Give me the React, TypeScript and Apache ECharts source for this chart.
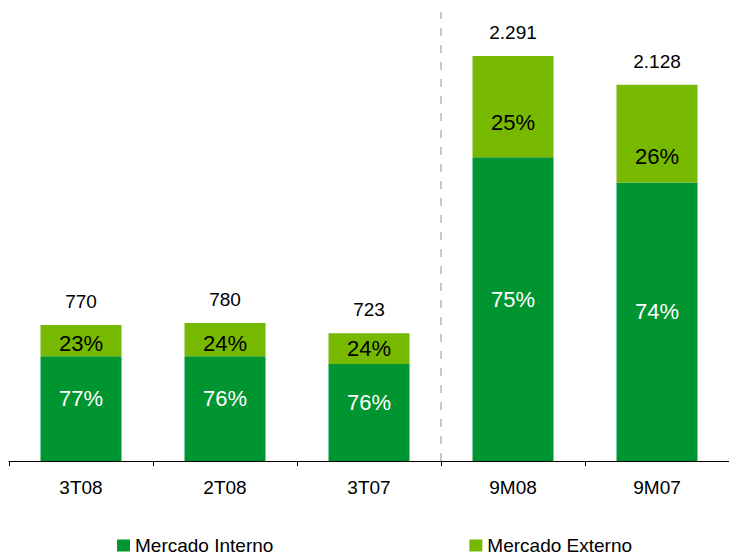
import React, { useEffect, useRef } from "react";
import * as echarts from "echarts";

const categories = ["3T08", "2T08", "3T07", "9M08", "9M07"];
const totals = [770, 780, 723, 2291, 2128];
const internoValues = [593, 593, 549, 1718, 1575];
const externoValues = [177, 187, 174, 573, 553];
const internoPct = ["77%", "76%", "76%", "75%", "74%"];
const externoPct = ["23%", "24%", "24%", "25%", "26%"];
const separatorAt = 3;

const externoLabelShift = [3, 4, 0, 16, 23];

const FONT = "Liberation Sans, Arial, sans-serif";

function fmtThousands(v: number): string {
  return String(v).replace(/\B(?=(\d{3})+(?!\d))/g, ".");
}

export default function App() {
  const ref = useRef<HTMLDivElement>(null);
  useEffect(() => {
    if (!ref.current) return;
    const chart = echarts.init(ref.current, null, { renderer: "svg" });
    chart.setOption({
      animation: false,
      backgroundColor: "#ffffff",
      textStyle: { fontFamily: FONT, fontWeight: "normal" },
      grid: { left: 9, right: -2, top: 12, bottom: 94, containLabel: false },
      legend: {
        data: ["Mercado Interno", "Mercado Externo"],
        left: 117,
        top: 536,
        padding: 0,
        itemWidth: 13,
        itemHeight: 12,
        itemGap: 196,
        icon: "rect",
        textStyle: { fontFamily: FONT, fontSize: 19, color: "#000", fontWeight: "normal" },
      },
      xAxis: [
        {
          type: "category",
          data: categories,
          axisLine: { lineStyle: { color: "#000", width: 1 } },
          axisTick: { show: true, length: 5, lineStyle: { color: "#000" } },
          axisLabel: {
            color: "#000",
            fontSize: 19,
            fontFamily: FONT,
            fontWeight: "normal",
            margin: 17,
          },
        },
        { type: "value", min: 0, max: 5, show: false },
      ],
      yAxis: {
        type: "value",
        min: 0,
        max: 2540,
        show: false,
        splitLine: { show: false },
      },
      series: [
        {
          name: "Mercado Interno",
          type: "bar",
          stack: "t",
          barWidth: 81,
          itemStyle: { color: "#009530" },
          data: internoValues,
          label: {
            show: true,
            position: "inside",
            offset: [0, -10],
            color: "#fff",
            fontSize: 22,
            fontFamily: FONT,
            fontWeight: "normal",
            formatter: (p: any) => internoPct[p.dataIndex],
          },
        },
        {
          name: "Mercado Externo",
          type: "bar",
          stack: "t",
          barWidth: 81,
          itemStyle: { color: "#77b800" },
          data: externoValues.map((v, i) => ({
            value: v,
            label: { offset: [0, externoLabelShift[i]] },
          })),
          label: {
            show: true,
            position: "inside",
            color: "#000",
            fontSize: 22,
            fontFamily: FONT,
            fontWeight: "normal",
            formatter: (p: any) => externoPct[p.dataIndex],
          },
        },
        {
          name: "Total",
          type: "scatter",
          symbolSize: 0,
          data: totals,
          silent: true,
          itemStyle: { color: "#000", opacity: 1 },
          label: {
            show: true,
            position: "top",
            distance: 14,
            color: "#000",
            fontSize: 19,
            fontFamily: FONT,
            fontWeight: "normal",
            formatter: (p: any) => fmtThousands(totals[p.dataIndex]),
          },
        },
        {
          name: "sep",
          type: "line",
          xAxisIndex: 1,
          data: [[separatorAt, 0]],
          showSymbol: false,
          lineStyle: { opacity: 0 },
          silent: true,
          markLine: {
            symbol: "none",
            silent: true,
            label: { show: false },
            lineStyle: { color: "#c8c8c8", type: [8, 9], width: 2 },
            data: [{ xAxis: separatorAt }],
          },
        },
      ],
    });
    return () => chart.dispose();
  }, []);
  return (
    <div
      ref={ref}
      style={{ position: "absolute", left: 0, top: 0, width: 729, height: 555 }}
    />
  );
}
